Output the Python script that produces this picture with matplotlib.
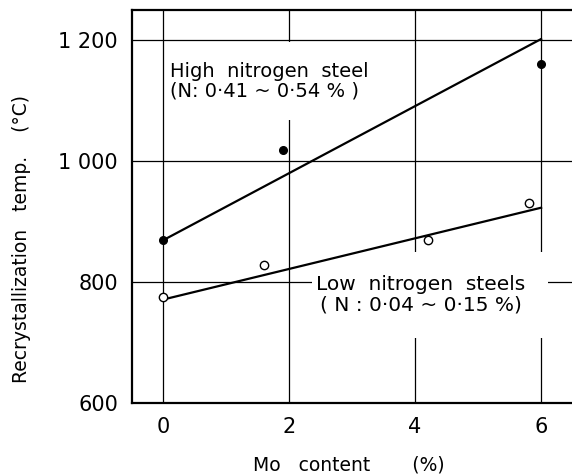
import matplotlib.pyplot as plt

# data
high_mo = [0, 1.9, 6]
high_temp = [869, 1019, 1160]
low_mo = [0, 1.6, 4.2, 5.8]
low_temp = [775, 828, 869, 931]
fit_mo = [0, 6]
high_fit = [869, 1202]
low_fit = [771, 923]

xticks = [0, 2, 4, 6]
yticks = [600, 800, 1000, 1200]
ytick_labels = ["600", "800", "1 000", "1 200"]

plt.rcParams['font.family'] = ['DejaVu Sans']

fig = plt.figure(figsize=(5.72, 4.74), dpi=100)
ax = fig.add_axes([132 / 572, 1 - 403 / 474, 1 - 132 / 572, 393 / 474])

ax.set_xlim(-0.49, 6.49)
ax.set_ylim(600, 1250)
ax.set_xticks(xticks)
ax.set_yticks(yticks)
ax.set_yticklabels(ytick_labels)
ax.tick_params(length=0, labelsize=15, pad=10)
ax.grid(True, color='black', lw=0.9, zorder=0)
ax.set_axisbelow(True)
for s in ['left', 'bottom', 'top']:
    ax.spines[s].set_linewidth(1.6)
ax.spines['right'].set_visible(False)

# fit lines and points go above the white label boxes, which only break the grid
ax.plot(fit_mo, high_fit, color='black', lw=1.6, zorder=6)
ax.plot(fit_mo, low_fit, color='black', lw=1.6, zorder=6)
ax.plot(high_mo, high_temp, 'o', color='black', ms=5.5, zorder=7)
ax.plot(low_mo, low_temp, 'o', mfc='white', mec='black', mew=1.0, ms=6, zorder=7)

box = dict(boxstyle='square,pad=0.05', fc='white', ec='none')
ax.text(0.12, 1132, "\nHigh  nitrogen  steel\n(N: 0·41 ~ 0·54 % )\n", ha='left', va='center',
        fontsize=14, linespacing=1.0, bbox=box, zorder=5)
ax.text(2.43, 779, "\nLow  nitrogen  steels" + "\u00a0" * 3 + "\n( N : 0·04 ~ 0·15 %)" + "\u00a0" * 3 + "\n",
        ha='left', va='center', ma='center', fontsize=14.5, linespacing=1.05,
        bbox=dict(boxstyle='square,pad=0.2', fc='white', ec='none'), zorder=5)

fig.text(22 / 572, 1 - 239 / 474, "Recrystallization   temp.    (°C)", rotation=90,
         ha='center', va='center', fontsize=13.5)
fig.text(349 / 572, 1 - 465 / 474, "Mo   content       (%)", ha='center', va='center',
         fontsize=13.5)

fig.savefig('out.png', dpi=100)
